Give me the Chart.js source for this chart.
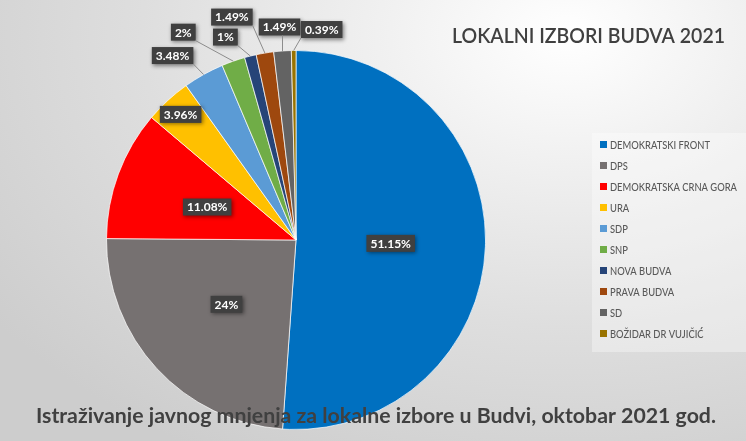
<!DOCTYPE html>
<html>
<head>
<meta charset="utf-8">
<script src="https://cdn.jsdelivr.net/npm/chart.js@4.4.1/dist/chart.umd.min.js"></script>
<style>
  html, body { margin: 0; padding: 0; }
  body {
    width: 746px; height: 441px; overflow: hidden;
    background: radial-gradient(ellipse 95% 110% at 76% 8%, #ffffff 0%, #f1f1f1 25%, #dedede 60%, #cdcdcd 100%);
  }
  canvas { display: block; }
</style>
</head>
<body>
<canvas id="chart" width="746" height="441"></canvas>
<script>
// data
const parties = ['DEMOKRATSKI FRONT', 'DPS', 'DEMOKRATSKA CRNA GORA', 'URA', 'SDP', 'SNP',
                 'NOVA BUDVA', 'PRAVA BUDVA', 'SD', 'BOŽIDAR DR VUJIČIĆ'];
const shares = [51.15, 24, 11.08, 3.96, 3.48, 2, 1, 1.49, 1.49, 0.39];
const colors = ['#0070C0', '#767171', '#FF0000', '#FFC000', '#5B9BD5', '#70AD47',
                '#264478', '#9E480E', '#636363', '#997300'];

const chartTitle = 'LOKALNI IZBORI BUDVA 2021';
const caption = 'Istraživanje javnog mnjenja za lokalne izbore u Budvi, oktobar 2021 god.';

// label layout: inside labels sit at a fraction of the radius, small slices get callouts
const labelRadius = [0.5, 0.5, 0.5, 0.9, null, null, null, null, null, null];
const calloutOffsets = [null, null, null, null, [-31, -19], [-50, -29], [-25, -19], [-33, -36], [-3, -24], [28, -21]];

const FAMILY = 'Lato, "Open Sans", sans-serif';

// draw text at a given font size, squeezed horizontally to span `width`
function drawFitted(ctx, text, font, x, y, width) {
  ctx.save();
  ctx.font = font;
  const w = ctx.measureText(text).width;
  ctx.translate(x, y);
  ctx.scale(width / w, 1);
  ctx.fillText(text, 0, 0);
  ctx.restore();
}

function drawTag(ctx, text, x, y) {
  ctx.font = `bold 12px ${FAMILY}`;
  const w = ctx.measureText(text).width + 8;
  const h = 17;
  ctx.save();
  ctx.shadowColor = 'rgba(0,0,0,0.45)';
  ctx.shadowBlur = 4;
  ctx.shadowOffsetX = 1.5;
  ctx.shadowOffsetY = 1.5;
  ctx.fillStyle = '#404040';
  ctx.fillRect(x - w / 2, y - h / 2, w, h);
  ctx.restore();
  ctx.fillStyle = '#ffffff';
  ctx.textAlign = 'center';
  ctx.textBaseline = 'middle';
  ctx.fillText(text, x, y + 0.5);
  return { left: x - w / 2, right: x + w / 2, top: y - h / 2, bottom: y + h / 2 };
}

const pieLabels = {
  id: 'pieLabels',
  afterDatasetsDraw(chart) {
    const ctx = chart.ctx;
    const meta = chart.getDatasetMeta(0);
    meta.data.forEach((arc, i) => {
      const { x, y, startAngle, endAngle, outerRadius } = arc.getProps(['x', 'y', 'startAngle', 'endAngle', 'outerRadius'], true);
      const mid = (startAngle + endAngle) / 2;
      const text = shares[i] + '%';
      if (labelRadius[i] !== null) {
        const r = outerRadius * labelRadius[i];
        drawTag(ctx, text, x + Math.cos(mid) * r, y + Math.sin(mid) * r);
        return;
      }
      const ax = x + Math.cos(mid) * outerRadius;
      const ay = y + Math.sin(mid) * outerRadius;
      const [dx, dy] = calloutOffsets[i];
      const box = drawTag(ctx, text, ax + dx, ay + dy);
      // leader line from the nearest point of the tag to the slice edge
      const px = Math.min(Math.max(ax, box.left), box.right);
      const py = Math.min(Math.max(ay, box.top), box.bottom);
      ctx.save();
      ctx.strokeStyle = '#8c8c8c';
      ctx.lineWidth = 1;
      ctx.beginPath();
      ctx.moveTo(px, py);
      ctx.lineTo(ax, ay);
      ctx.stroke();
      ctx.restore();
    });
  },
  afterDraw(chart) {
    const ctx = chart.ctx;
    ctx.save();
    ctx.textAlign = 'left';
    ctx.textBaseline = 'alphabetic';

    // title, top right
    ctx.fillStyle = '#404040';
    drawFitted(ctx, chartTitle, `600 21px ${FAMILY}`, 452, 43, 273);

    // legend panel
    ctx.fillStyle = 'rgba(255,255,255,0.35)';
    ctx.fillRect(592, 133, 154, 219);
    ctx.textBaseline = 'middle';
    ctx.font = `500 11px ${FAMILY}`;
    const longest = Math.max(...parties.map(p => ctx.measureText(p).width));
    parties.forEach((name, i) => {
      const cy = 144.5 + i * 21;
      ctx.fillStyle = colors[i];
      ctx.fillRect(600, cy - 3.5, 7, 7);
      ctx.fillStyle = '#595959';
      const w = ctx.measureText(name).width;
      drawFitted(ctx, name, `500 11px ${FAMILY}`, 610, cy + 0.5, w * 127 / longest);
    });

    // caption across the bottom
    ctx.textBaseline = 'alphabetic';
    ctx.fillStyle = '#404040';
    drawFitted(ctx, caption, `bold 21px ${FAMILY}`, 36, 423, 680);
    ctx.restore();
  }
};

new Chart(document.getElementById('chart'), {
  type: 'pie',
  data: {
    labels: parties,
    datasets: [{
      data: shares,
      backgroundColor: colors,
      borderColor: 'rgba(255,255,255,0.7)',
      borderWidth: 1
    }]
  },
  options: {
    responsive: false,
    devicePixelRatio: 1,
    animation: false,
    events: [],
    layout: { padding: { top: 50, bottom: 11, left: 0, right: 154 } },
    plugins: {
      legend: { display: false },
      tooltip: { enabled: false },
      title: { display: false }
    }
  },
  plugins: [pieLabels]
});
</script>
</body>
</html>
